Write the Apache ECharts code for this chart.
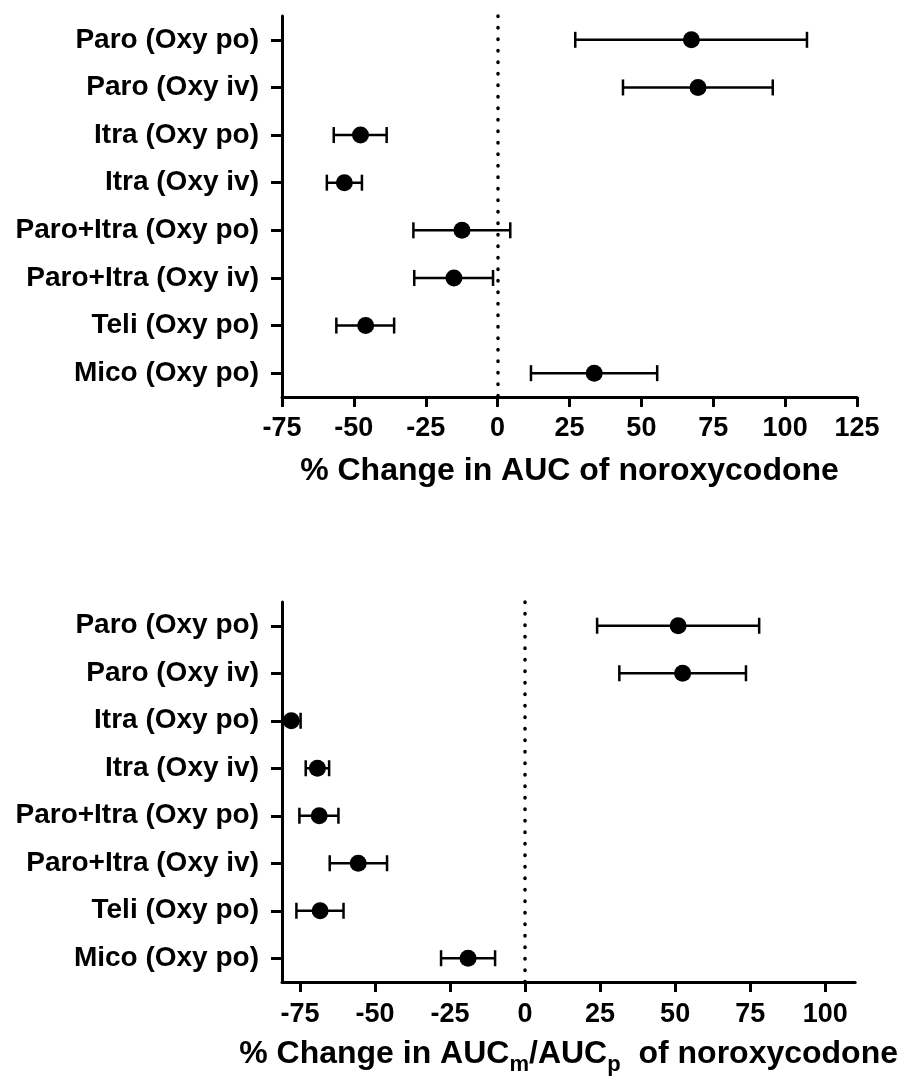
<!DOCTYPE html>
<html>
<head>
<meta charset="utf-8">
<script src="https://cdn.jsdelivr.net/npm/echarts@6/dist/echarts.min.js"></script>
<style>
html,body{margin:0;padding:0;background:#fff;}
#chart{width:900px;height:1077px;}
</style>
</head>
<body>
<div id="chart"></div>
<script>
// ---- data ----
var categories = ['Paro (Oxy po)', 'Paro (Oxy iv)', 'Itra (Oxy po)', 'Itra (Oxy iv)',
  'Paro+Itra (Oxy po)', 'Paro+Itra (Oxy iv)', 'Teli (Oxy po)', 'Mico (Oxy po)'];

// top panel: % change in AUC of noroxycodone
var aucMean = [67.4, 69.7, -47.7, -53.3, -12.4, -15.2, -45.9, 33.6];
var aucLow  = [27.0, 43.6, -57.0, -59.4, -29.3, -29.0, -56.1, 11.6];
var aucHigh = [107.6, 95.7, -38.6, -47.2, 4.4, -1.6, -36.0, 55.5];

// bottom panel: % change in AUCm/AUCp of noroxycodone
var ratioMean = [51.0, 52.5, -77.9, -69.2, -68.6, -55.6, -68.3, -19.0];
var ratioLow  = [24.0, 31.4, -80.7, -73.1, -75.2, -65.1, -76.2, -28.0];
var ratioHigh = [78.0, 73.6, -74.8, -65.3, -62.2, -46.0, -60.5, -10.0];

var topTicks = [-75, -50, -25, 0, 25, 50, 75, 100, 125];
var bottomTicks = [-75, -50, -25, 0, 25, 50, 75, 100];

var FONT = "'Liberation Sans', Arial, sans-serif";

function pointData(mean) {
  return mean.map(function (v, i) { return [v, categories[i]]; });
}
function errData(low, high) {
  return low.map(function (v, i) { return [v, high[i], i]; });
}

function renderErr(params, api) {
  var cat = api.value(2);
  var p1 = api.coord([api.value(0), cat]);
  var p2 = api.coord([api.value(1), cat]);
  var h = 8;
  var style = { stroke: '#000', lineWidth: 2.5 };
  return {
    type: 'group',
    children: [
      { type: 'line', shape: { x1: p1[0], y1: p1[1], x2: p2[0], y2: p2[1] }, style: style },
      { type: 'line', shape: { x1: p1[0], y1: p1[1] - h, x2: p1[0], y2: p1[1] + h }, style: style },
      { type: 'line', shape: { x1: p2[0], y1: p2[1] - h, x2: p2[0], y2: p2[1] + h }, style: style }
    ]
  };
}

var axisLineStyle = { color: '#000', width: 3 };

function yAxisCfg(gridIndex) {
  return {
    type: 'category',
    gridIndex: gridIndex,
    data: categories,
    inverse: true,
    boundaryGap: true,
    axisLine: { show: true, onZero: false, lineStyle: axisLineStyle },
    axisTick: { show: true, alignWithLabel: true, length: 11, lineStyle: { color: '#000', width: 3 } },
    axisLabel: { color: '#000', fontFamily: FONT, fontWeight: 'bold', fontSize: 28, margin: 23 },
    splitLine: { show: false }
  };
}

var zeroLine = {
  silent: true,
  symbol: 'none',
  label: { show: false },
  lineStyle: { color: '#000', width: 3.5, type: [0.5, 11], cap: 'round', opacity: 1 },
  emphasis: { disabled: true },
  data: [{ xAxis: 0 }]
};

var option = {
  animation: false,
  backgroundColor: '#fff',
  grid: [
    { left: 282, top: 16, width: 575, height: 381 },
    { left: 282, top: 602, width: 575, height: 382 }
  ],
  xAxis: [
    {
      type: 'value', gridIndex: 0, min: -75, max: 125, interval: 25,
      axisLine: { show: true, onZero: false, lineStyle: axisLineStyle },
      axisTick: { show: true, length: 10, lineStyle: { color: '#000', width: 3 } },
      axisLabel: { color: '#000', fontFamily: FONT, fontWeight: 'bold', fontSize: 27, margin: 18,
        customValues: topTicks },
      splitLine: { show: false },
      name: '% Change in AUC of noroxycodone',
      nameLocation: 'middle', nameGap: 58,
      nameTextStyle: { color: '#000', fontFamily: FONT, fontWeight: 'bold', fontSize: 32 }
    },
    {
      type: 'value', gridIndex: 1, min: -81, max: 110,
      axisLine: { show: true, onZero: false, lineStyle: axisLineStyle },
      axisTick: { show: true, length: 10, lineStyle: { color: '#000', width: 3 }, customValues: bottomTicks },
      axisLabel: { color: '#000', fontFamily: FONT, fontWeight: 'bold', fontSize: 27, margin: 19,
        customValues: bottomTicks },
      splitLine: { show: false },
      name: '% Change in AUC{sub|m}/AUC{sub|p}  of noroxycodone',
      nameLocation: 'middle', nameGap: 50,
      nameTextStyle: { color: '#000', fontFamily: FONT, fontWeight: 'bold', fontSize: 32,
        rich: { sub: { color: '#000', fontFamily: FONT, fontWeight: 'bold', fontSize: 22, padding: [22, 0, 0, 0] } } }
    }
  ],
  yAxis: [yAxisCfg(0), yAxisCfg(1)],
  series: [
    {
      type: 'custom', xAxisIndex: 0, yAxisIndex: 0, renderItem: renderErr,
      data: errData(aucLow, aucHigh), z: 2,
      markLine: zeroLine
    },
    {
      type: 'scatter', xAxisIndex: 0, yAxisIndex: 0, symbol: 'circle', symbolSize: 17,
      itemStyle: { color: '#000', opacity: 1 }, data: pointData(aucMean), z: 3
    },
    {
      type: 'custom', xAxisIndex: 1, yAxisIndex: 1, renderItem: renderErr,
      data: errData(ratioLow, ratioHigh), z: 2,
      markLine: zeroLine
    },
    {
      type: 'scatter', xAxisIndex: 1, yAxisIndex: 1, symbol: 'circle', symbolSize: 17,
      itemStyle: { color: '#000', opacity: 1 }, data: pointData(ratioMean), z: 3
    }
  ]
};

var chart = echarts.init(document.getElementById('chart'), null, { renderer: 'canvas' });
chart.setOption(option);
</script>
</body>
</html>
